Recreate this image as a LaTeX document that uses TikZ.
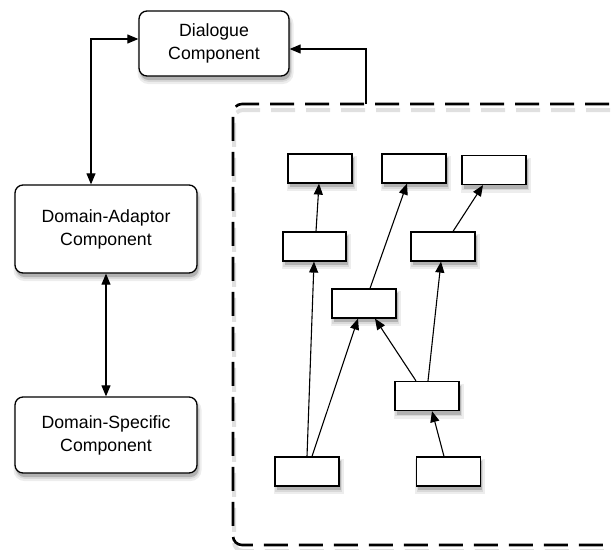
\documentclass[tikz,border=0pt]{standalone}
\usepackage{fontspec}
\setmainfont{Liberation Sans}
\usetikzlibrary{arrows.meta}
\begin{document}
\begin{tikzpicture}[x=1pt,y=1pt,
  shd/.style={
    preaction={fill=black!7,draw=black!7,line width=6pt,transform canvas={xshift=1.5pt,yshift=-5pt}},
    preaction={fill=black!15,draw=black!15,line width=2.5pt,transform canvas={xshift=1.5pt,yshift=-4.5pt}},
    preaction={fill=black!30,transform canvas={xshift=1.5pt,yshift=-4pt}}},
  bigbox/.style={draw,line width=1.3pt,rounded corners=8pt,fill=white,shd,align=center,
    font=\fontsize{17.7}{23}\selectfont,inner sep=0pt},
  smallbox/.style={draw,line width=1.2pt,fill=white,shd,minimum width=64pt,minimum height=29pt,inner sep=0pt},
  arr/.style={line width=1.1pt,-{Triangle[length=11pt,width=9pt]}},
  darr/.style={line width=1.1pt,{Triangle[length=11pt,width=9pt]}-{Triangle[length=11pt,width=9pt]}}]
\useasboundingbox (0,0) rectangle (612,-549);
% dashed group
\node[draw,line width=2.6pt,dash pattern=on 24pt off 11pt,rounded corners=9pt,
  preaction={draw=black!12,line width=4pt,transform canvas={xshift=1pt,yshift=-6pt}},
  minimum width=420pt,minimum height=441pt,inner sep=0pt] (grp) at (443,-324.5) {};
% main components
\node[bigbox,minimum width=150pt,minimum height=65pt] (dia) at (214,-43.5) {Dialogue\\Component};
\node[bigbox,minimum width=182pt,minimum height=88pt] (ada) at (106,-229) {Domain-Adaptor\\Component};
\node[bigbox,minimum width=182pt,minimum height=76pt] (spe) at (106,-435) {Domain-Specific\\Component};
% small boxes
\node[smallbox] (a1) at (320,-168.5) {};
\node[smallbox] (a2) at (414,-168.5) {};
\node[smallbox] (a3) at (494,-170) {};
\node[smallbox,minimum width=63pt] (b1) at (314.5,-246.5) {};
\node[smallbox] (b2) at (443,-246.5) {};
\node[smallbox] (c) at (364,-303.5) {};
\node[smallbox] (d) at (427,-396) {};
\node[smallbox] (e1) at (307,-471.5) {};
\node[smallbox] (e2) at (448.5,-471.5) {};
% connectors among small boxes
\draw[arr] ([xshift=1.5pt]b1.north) -- ([xshift=-1pt]a1.south);
\draw[arr] ([xshift=6pt]c.north) -- ([xshift=-7pt]a2.south);
\draw[arr] ([xshift=10pt]b2.north) -- ([xshift=-11pt]a3.south);
\draw[arr] (e1.north) -- ([xshift=-0.5pt]b1.south);
\draw[arr] ([xshift=5pt]e1.north) -- ([xshift=-6pt]c.south);
\draw[arr] ([xshift=-11pt]d.north) -- ([xshift=11pt]c.south);
\draw[arr] ([xshift=1pt]d.north) -- ([xshift=-2pt]b2.south);
\draw[arr] ([xshift=-4.5pt]e2.north) -- ([xshift=5pt]d.south);
% main connectors
\coordinate (k1) at (91,-39);
\draw[darr] (dia.west |- k1) -| (ada.north -| k1);
\draw[darr] (ada.south) -- (spe.north);
\coordinate (k2) at (366,-104);
\draw[arr] (k2) |- ([yshift=-5.5pt]dia.east);
\end{tikzpicture}
\end{document}
